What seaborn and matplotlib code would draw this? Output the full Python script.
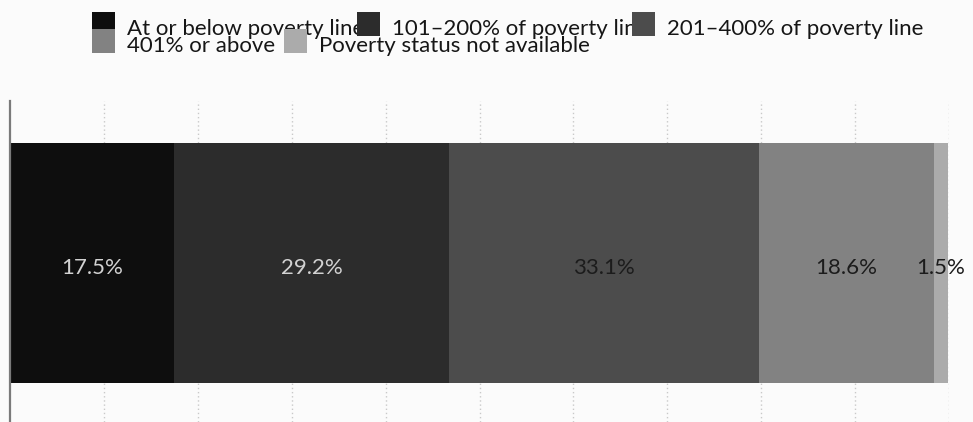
import matplotlib
matplotlib.use("Agg")
import matplotlib.pyplot as plt
from matplotlib.patches import Rectangle
import numpy as np
import pandas as pd
import seaborn as sns

# Share of people by poverty status
categories = [
    "At or below poverty line",
    "101–200% of poverty line",
    "201–400% of poverty line",
    "401% or above",
    "Poverty status not available",
]
shares = [17.5, 29.2, 33.1, 18.6, 1.5]
colors = ["#0e0e0e", "#2c2c2c", "#4c4c4c", "#828282", "#ababab"]
label_colors = ["#d2d2d2", "#d2d2d2", "#1c1c1c", "#1c1c1c", "#1c1c1c"]
legend_rows = [[0, 1, 2], [3, 4]]

sns.set_theme(style="white")
plt.rcParams["font.family"] = ["Lato", "DejaVu Sans"]

W, H = 973, 422
fig = plt.figure(figsize=(W / 100, H / 100), dpi=100)
fig.patch.set_facecolor("#fbfbfb")

ax = fig.add_axes([10 / W, 0, 939 / W, (H - 101) / H])
ax.set_facecolor("none")

cum = np.cumsum(shares)
df = pd.DataFrame({"group": [""] * len(shares), "cum": cum, "share": shares})

# Stacked bar: draw cumulative totals from the widest down so each segment shows
for i in range(len(shares) - 1, -1, -1):
    sns.barplot(data=df.iloc[[i]], x="cum", y="group", orient="h",
                color=colors[i], saturation=1, width=0.8, ax=ax, zorder=2,
                linewidth=0)

for i, v in enumerate(shares):
    ax.text(cum[i] - v / 2, 0.015, f"{v}%", ha="center", va="center",
            fontsize=16, color=label_colors[i], zorder=3)

ax.set_xlim(0, 100)
ax.set_ylim(0.53, -0.54)
for gx in range(10, 101, 10):
    ax.axvline(gx, color="#c9c9c9", lw=1.0, ls=(0, (1, 2)), zorder=1)

ax.set_xlabel("")
ax.set_ylabel("")
ax.set_xticks([])
ax.set_yticks([])
for side in ["top", "right", "bottom"]:
    ax.spines[side].set_visible(False)
ax.spines["left"].set_color("#7a7a7a")
ax.spines["left"].set_linewidth(1.6)

# Legend laid out in two wrapped rows across the top; swatches sit above text
row_marker_x = [[92, 357, 632], [92, 284]]
row_top_y = [12, 29]
for r, row in enumerate(legend_rows):
    for k, idx in enumerate(row):
        mx = row_marker_x[r][k]
        my = row_top_y[r]
        fig.text((mx + 35) / W, 1 - (my + 23) / H, categories[idx],
                 fontsize=16, color="#161616", ha="left", va="baseline",
                 zorder=4 + 2 * r)
        fig.patches.append(Rectangle((mx / W, 1 - (my + 24) / H), 23 / W, 24 / H,
                                     transform=fig.transFigure,
                                     facecolor=colors[idx], edgecolor="none",
                                     zorder=5 + 2 * r))

fig.savefig("out.png", dpi=100, facecolor=fig.get_facecolor())
